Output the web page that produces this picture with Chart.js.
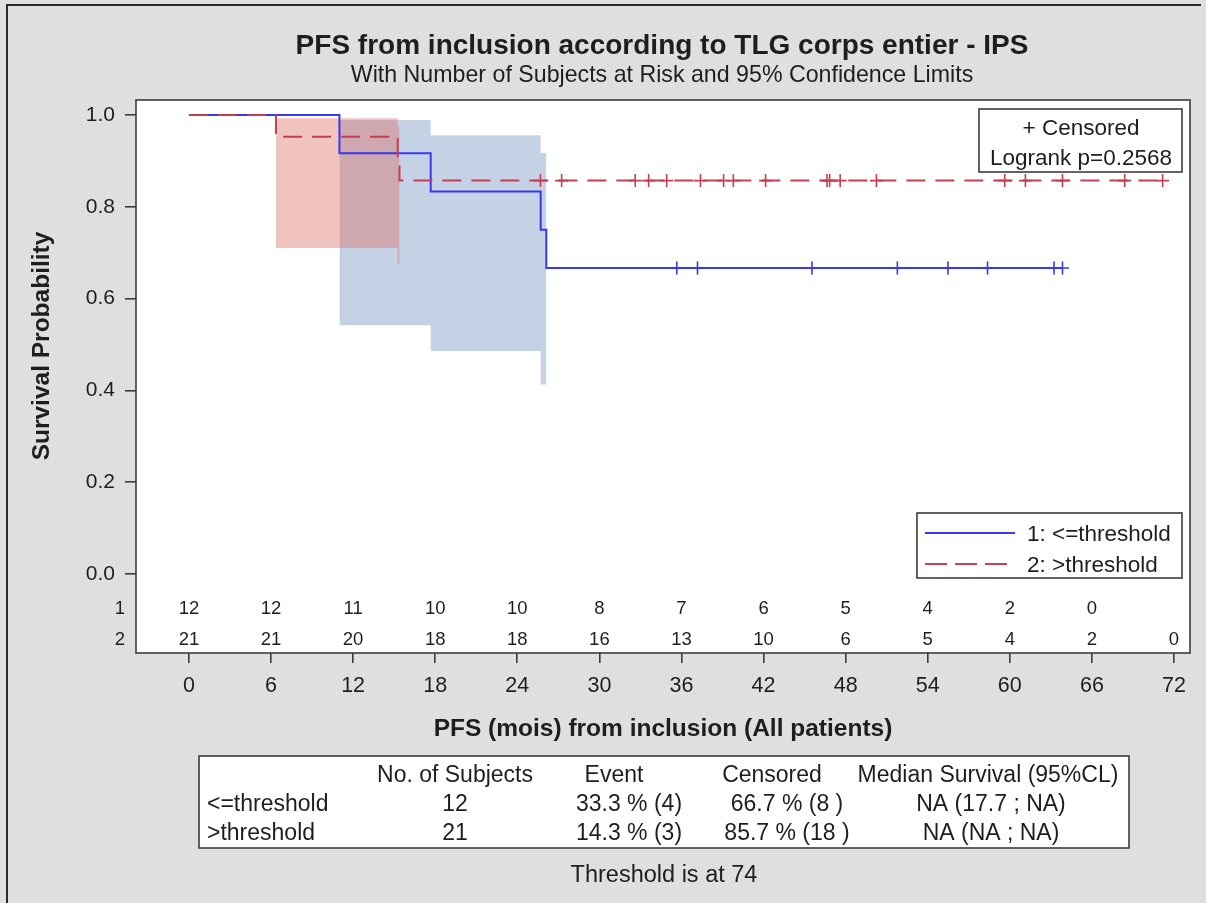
<!DOCTYPE html>
<html>
<head>
<meta charset="utf-8">
<title>PFS from inclusion according to TLG corps entier - IPS</title>
<script src="https://cdn.jsdelivr.net/npm/chart.js@4.4.1/dist/chart.umd.min.js"></script>
<style>
  html, body { margin: 0; padding: 0; background: #dfdfdf; }
  #wrap { position: relative; width: 1206px; height: 903px; }
  canvas { display: block; }
</style>
</head>
<body>
<div id="wrap"><canvas id="km" width="1206" height="903"></canvas></div>
<script>
const FONT = '"Liberation Sans", Arial, Helvetica, sans-serif';

// Axis ticks
const timeTicks = [0, 6, 12, 18, 24, 30, 36, 42, 48, 54, 60, 66, 72];
const probTicks = [0, 0.2, 0.4, 0.6, 0.8, 1.0];

// Group 1: <=threshold (12 subjects)
const g1Name = '1: <=threshold';
const g1EventTimes = [0, 11.0, 17.67, 25.71, 26.12];
const g1Survival = [1, 0.9167, 0.8333, 0.75, 0.6667];
const g1CensorTimes = [35.66, 37.17, 45.54, 51.78, 55.48, 58.37, 63.23, 63.85];
const g1Lower = [0.542, 0.486, 0.413];
const g1Upper = [0.989, 0.956, 0.917];
const g1AtRisk = [12, 12, 11, 10, 10, 8, 7, 6, 5, 4, 2, 0];

// Group 2: >threshold (21 subjects)
const g2Name = '2: >threshold';
const g2EventTimes = [0, 6.36, 15.26, 15.39];
const g2Survival = [1, 0.9524, 0.9048, 0.8571];
const g2CensorTimes = [25.69, 27.24, 32.62, 33.60, 34.92, 37.39, 39.08, 39.79, 42.15,
                       46.64, 46.83, 47.60, 50.25, 59.63, 61.14, 63.85, 68.40, 71.17];
const g2Lower = [0.710, 0.675];
const g2Upper = [0.993, 0.975];
const g2AtRisk = [21, 21, 20, 18, 18, 16, 13, 10, 6, 5, 4, 2, 0];

// Summary table
const tableHeader = ['No. of Subjects', 'Event', 'Censored', 'Median Survival (95%CL)'];
const tableRowNames = ['<=threshold', '>threshold'];
const tableSubjects = ['12', '21'];
const tableEvents = ['33.3 % (4)', '14.3 % (3)'];
const tableCensored = ['66.7 % (8 )', '85.7 % (18 )'];
const tableMedian = ['NA (17.7 ; NA)', 'NA (NA ; NA)'];

const titleText = 'PFS from inclusion according to TLG corps entier - IPS';
const subtitleText = 'With Number of Subjects at Risk and 95% Confidence Limits';
const xTitle = 'PFS (mois) from inclusion (All patients)';
const yTitle = 'Survival Probability';
const logrankText = 'Logrank p=0.2568';
const footText = 'Threshold is at 74';

const BLUE = '#3838f0';
const RED = '#c63f50';
const BLUE_BAND = 'rgba(110,140,190,0.4)';
const RED_BAND = 'rgba(220,105,95,0.4)';
const INK = '#1e1e1e';
const FRAME = '#3c3c3c';
const DASH = [19, 10];

// Step-function points: value[i] holds from times[i] until the next time
function stepPoints(times, values, endTime) {
  const pts = [];
  for (let i = 0; i < times.length; i++) {
    if (i > 0) pts.push({ x: times[i], y: values[i - 1] });
    pts.push({ x: times[i], y: values[i] });
  }
  pts.push({ x: endTime, y: values[values.length - 1] });
  return pts;
}
function survivalAt(times, values, t) {
  let s = values[0];
  for (let i = 0; i < times.length; i++) if (times[i] <= t) s = values[i];
  return s;
}
function censorPoints(times, values, cTimes) {
  return cTimes.map(t => ({ x: t, y: survivalAt(times, values, t) }));
}

const g1Band = g1EventTimes.slice(1);
const g2Band = g2EventTimes.slice(1);
const g1End = Math.max(...g1CensorTimes);
const g2End = Math.max(...g2CensorTimes);

const hidden = { pointRadius: 0, borderWidth: 0, showLine: true };

const datasets = [
  { label: 'g1 upper', data: stepPoints(g1Band.slice(0, -1), g1Upper, g1Band[g1Band.length - 1]),
    ...hidden, order: 10, fill: false },
  { label: 'g1 lower', data: stepPoints(g1Band.slice(0, -1), g1Lower, g1Band[g1Band.length - 1]),
    ...hidden, order: 10, fill: '-1', backgroundColor: BLUE_BAND },
  { label: 'g2 upper', data: stepPoints(g2Band.slice(0, -1), g2Upper, g2Band[g2Band.length - 1]),
    ...hidden, order: 9, fill: false },
  { label: 'g2 lower', data: stepPoints(g2Band.slice(0, -1), g2Lower, g2Band[g2Band.length - 1]),
    ...hidden, order: 9, fill: '-1', backgroundColor: RED_BAND },
  { label: g1Name, data: stepPoints(g1EventTimes, g1Survival, g1End),
    borderColor: BLUE, borderWidth: 2, pointRadius: 0, order: 4, fill: false },
  { label: g1Name + ' censored', data: censorPoints(g1EventTimes, g1Survival, g1CensorTimes),
    showLine: false, pointStyle: 'cross', pointRadius: 6.5, pointBorderWidth: 1.6,
    pointBorderColor: BLUE, borderColor: BLUE, order: 3 },
  { label: g2Name, data: stepPoints(g2EventTimes, g2Survival, g2End),
    borderColor: RED, borderWidth: 2, borderDash: DASH, pointRadius: 0, order: 2, fill: false },
  { label: g2Name + ' censored', data: censorPoints(g2EventTimes, g2Survival, g2CensorTimes),
    showLine: false, pointStyle: 'cross', pointRadius: 6.5, pointBorderWidth: 1.6,
    pointBorderColor: RED, borderColor: RED, order: 1 }
];

function text(ctx, s, x, y, size, opts = {}) {
  ctx.save();
  ctx.font = (opts.bold ? 'bold ' : '') + size + 'px ' + FONT;
  ctx.fillStyle = opts.color || INK;
  ctx.textAlign = opts.align || 'center';
  ctx.textBaseline = opts.base || 'alphabetic';
  if (opts.rotate) {
    ctx.translate(x, y);
    ctx.rotate(opts.rotate);
    ctx.fillText(s, 0, 0);
  } else {
    ctx.fillText(s, x, y);
  }
  ctx.restore();
}
function box(ctx, x1, y1, x2, y2) {
  ctx.save();
  ctx.fillStyle = '#ffffff';
  ctx.fillRect(x1, y1, x2 - x1, y2 - y1);
  ctx.strokeStyle = FRAME;
  ctx.lineWidth = 1.6;
  ctx.strokeRect(x1, y1, x2 - x1, y2 - y1);
  ctx.restore();
}

const backdrop = {
  id: 'backdrop',
  beforeDraw(chart) {
    const { ctx, chartArea: a } = chart;
    ctx.save();
    ctx.fillStyle = '#dfdfdf';
    ctx.fillRect(0, 0, chart.width, chart.height);
    ctx.fillStyle = '#ffffff';
    ctx.fillRect(a.left, a.top, a.right - a.left, a.bottom - a.top);
    ctx.strokeStyle = '#2a2a2a';
    ctx.lineWidth = 2;
    ctx.beginPath();
    ctx.moveTo(7, 903); ctx.lineTo(7, 5); ctx.lineTo(1201, 5);
    ctx.stroke();
    ctx.restore();
  }
};

const annotations = {
  id: 'annotations',
  afterDraw(chart) {
    const { ctx, chartArea: a } = chart;
    const xs = chart.scales.x;

    // plot frame
    ctx.save();
    ctx.strokeStyle = FRAME;
    ctx.lineWidth = 1.6;
    ctx.strokeRect(a.left, a.top, a.right - a.left, a.bottom - a.top);
    ctx.restore();

    // titles
    text(ctx, titleText, 662, 54, 28, { bold: true });
    text(ctx, subtitleText, 662, 82, 23.2);
    text(ctx, xTitle, 663, 729, 24.5, { bold: true, base: 'middle' });
    text(ctx, yTitle, 42, 346, 24.5, { bold: true, base: 'middle', rotate: -Math.PI / 2 });

    // subjects at risk
    const row1 = a.bottom - 44, row2 = a.bottom - 13;
    text(ctx, '1', 125, row1, 18.5, { align: 'right', base: 'middle' });
    text(ctx, '2', 125, row2, 18.5, { align: 'right', base: 'middle' });
    timeTicks.forEach((t, i) => {
      const px = xs.getPixelForValue(t);
      if (i < g1AtRisk.length) text(ctx, String(g1AtRisk[i]), px, row1, 18.5, { base: 'middle' });
      if (i < g2AtRisk.length) text(ctx, String(g2AtRisk[i]), px, row2, 18.5, { base: 'middle' });
    });

    // censored / logrank inset
    box(ctx, 979, 109, 1182, 172);
    text(ctx, '+ Censored', 1081, 135, 22.5);
    text(ctx, logrankText, 1081, 165, 22.5);

    // legend
    box(ctx, 917, 513, 1182, 578);
    ctx.save();
    ctx.lineWidth = 2;
    ctx.strokeStyle = BLUE;
    ctx.beginPath(); ctx.moveTo(925, 533); ctx.lineTo(1015, 533); ctx.stroke();
    ctx.strokeStyle = RED;
    ctx.setLineDash([22, 8]);
    ctx.beginPath(); ctx.moveTo(925, 564); ctx.lineTo(1015, 564); ctx.stroke();
    ctx.restore();
    text(ctx, g1Name, 1027, 541, 22.5, { align: 'left' });
    text(ctx, g2Name, 1027, 572, 22.5, { align: 'left' });

    // summary table
    box(ctx, 199, 756, 1129, 848);
    const colX = [455, 614, 772, 988];
    const valX = [455, 629, 787, 991];
    tableHeader.forEach((h, i) => text(ctx, h, colX[i], 782, 23));
    [0, 1].forEach(r => {
      const y = 811 + r * 29;
      text(ctx, tableRowNames[r], 207, y, 23, { align: 'left' });
      text(ctx, tableSubjects[r], valX[0], y, 23);
      text(ctx, tableEvents[r], valX[1], y, 23);
      text(ctx, tableCensored[r], valX[2], y, 23);
      text(ctx, tableMedian[r], valX[3], y, 23);
    });
    text(ctx, footText, 664, 882, 23.5);
  }
};

new Chart(document.getElementById('km'), {
  type: 'line',
  data: { datasets },
  plugins: [backdrop, annotations],
  options: {
    responsive: false,
    animation: false,
    events: [],
    layout: { padding: { left: 0, top: 100, right: 16, bottom: 0 } },
    plugins: { legend: { display: false }, tooltip: { enabled: false }, title: { display: false } },
    elements: { line: { tension: 0 } },
    scales: {
      x: {
        type: 'linear', min: -3.87, max: 73.17,
        afterBuildTicks: s => { s.ticks = timeTicks.map(v => ({ value: v })); },
        afterFit: s => { s.height = 250; },
        grid: { display: true, drawOnChartArea: false, drawTicks: true, tickLength: 10, color: FRAME, lineWidth: 1.6 },
        border: { display: false },
        ticks: { font: { family: FONT, size: 21.5 }, color: INK, padding: 10, maxRotation: 0,
                 callback: v => String(v) }
      },
      y: {
        type: 'linear', min: -0.1721, max: 1.0327,
        afterBuildTicks: s => { s.ticks = probTicks.map(v => ({ value: v })); },
        afterFit: s => { s.width = 136; },
        grid: { display: true, drawOnChartArea: false, drawTicks: true, tickLength: 11, color: FRAME, lineWidth: 1.6 },
        border: { display: false },
        ticks: { font: { family: FONT, size: 21 }, color: INK, padding: 10,
                 callback: v => v.toFixed(1) }
      }
    }
  }
});
</script>
</body>
</html>
